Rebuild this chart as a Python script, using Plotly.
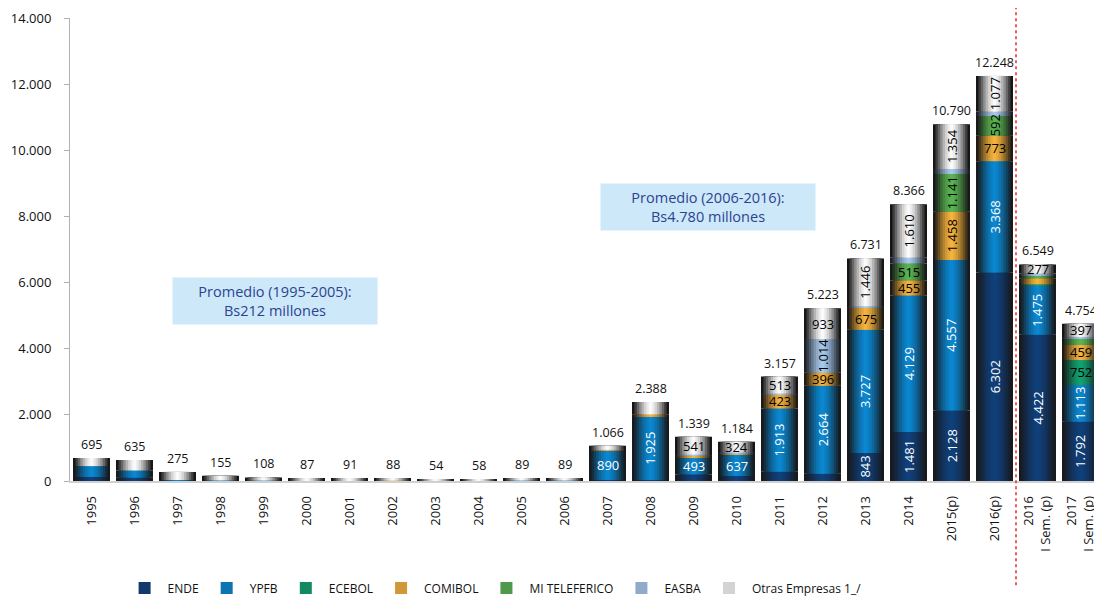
import plotly.graph_objects as go

categories = ["1995", "1996", "1997", "1998", "1999", "2000", "2001", "2002", "2003", "2004",
              "2005", "2006", "2007", "2008", "2009", "2010", "2011", "2012", "2013", "2014",
              "2015(p)", "2016(p)", "2016<br>I Sem. (p)", "2017<br>I Sem. (p)"]

totals = [695, 635, 275, 155, 108, 87, 91, 88, 54, 58, 89, 89, 1066, 2388, 1339, 1184,
          3157, 5223, 6731, 8366, 10790, 12248, 6549, 4754]

ende = [120, 100, 0, 0, 0, 0, 0, 0, 0, 0, 0, 0, 30, 30, 200, 150, 280, 216, 843, 1481,
        2128, 6302, 4422, 1792]
ypfb = [330, 220, 30, 15, 10, 0, 0, 0, 0, 0, 10, 10, 890, 1925, 493, 637, 1913, 2664, 3727,
        4129, 4557, 3368, 1475, 1113]
ecebol = [0, 0, 0, 0, 0, 0, 0, 0, 0, 0, 0, 0, 0, 0, 0, 0, 0, 0, 0, 0, 0, 0, 50, 752]
comibol = [0, 0, 0, 0, 0, 0, 0, 10, 0, 0, 0, 0, 20, 60, 80, 50, 423, 396, 675, 455, 1458,
           773, 180, 459]
mi_teleferico = [0, 0, 0, 0, 0, 0, 0, 0, 0, 0, 0, 0, 0, 0, 0, 0, 0, 0, 0, 515, 1141, 592, 90, 200]
easba = [0, 0, 0, 0, 0, 0, 0, 0, 0, 0, 0, 0, 0, 0, 25, 23, 28, 1014, 40, 176, 152, 136, 55, 41]
otras = [245, 315, 245, 140, 98, 87, 91, 78, 54, 58, 79, 79, 126, 373, 541, 324, 513, 933,
         1446, 1610, 1354, 1077, 277, 397]

series_names = ["ENDE", "YPFB", "ECEBOL", "COMIBOL", "MI TELEFERICO", "EASBA", "Otras Empresas 1_/"]
series_values = [ende, ypfb, ecebol, comibol, mi_teleferico, easba, otras]

# segments carrying a value label: series -> category indices ; horizontal (non-rotated) ones listed separately
labeled = {
    "ENDE": [18, 19, 20, 21, 22, 23],
    "YPFB": [12, 13, 14, 15, 16, 17, 18, 19, 20, 21, 22, 23],
    "ECEBOL": [23],
    "COMIBOL": [16, 17, 18, 19, 20, 21, 23],
    "MI TELEFERICO": [19, 20, 21],
    "EASBA": [17],
    "Otras Empresas 1_/": [14, 15, 16, 17, 18, 19, 20, 21, 22, 23],
}
horizontal = {("YPFB", 12), ("YPFB", 14), ("YPFB", 15), ("ECEBOL", 23), ("COMIBOL", 16),
              ("COMIBOL", 17), ("COMIBOL", 18), ("COMIBOL", 19), ("COMIBOL", 21), ("COMIBOL", 23),
              ("MI TELEFERICO", 19), ("Otras Empresas 1_/", 14), ("Otras Empresas 1_/", 15),
              ("Otras Empresas 1_/", 16), ("Otras Empresas 1_/", 17), ("Otras Empresas 1_/", 22),
              ("Otras Empresas 1_/", 23)}

# (edge colour, centre colour, label colour)
styles = {
    "ENDE": ("#18191d", "#0f407a", "white"),
    "YPFB": ("#16191d", "#0b87d0", "white"),
    "ECEBOL": ("#151a18", "#12a070", "black"),
    "COMIBOL": ("#1e1a14", "#f4b23e", "black"),
    "MI TELEFERICO": ("#161a16", "#5ab452", "black"),
    "EASBA": ("#1c2026", "#a6c8ea", "black"),
    "Otras Empresas 1_/": ("#151515", "#fafafa", "black"),
}

FONT = "Open Sans"


def mix(c1, c2, t):
    a = [int(c1[i:i + 2], 16) for i in (1, 3, 5)]
    b = [int(c2[i:i + 2], 16) for i in (1, 3, 5)]
    return "#" + "".join(f"{round(a[k] + (b[k] - a[k]) * t):02x}" for k in range(3))


def fmt(v):
    return f"{v:,}".replace(",", ".")


BAR_W = 0.86
layer_fracs = [1.0, 0.87, 0.74, 0.61, 0.48, 0.35, 0.22, 0.10]
layer_t = [0.0, 0.18, 0.36, 0.54, 0.7, 0.83, 0.93, 1.0]
LEGEND_LAYER = 5

xs = list(range(len(categories)))

fig = go.Figure()

# cumulative bases
bases = []
run = [0] * len(categories)
for vals in series_values:
    bases.append(run[:])
    run = [run[i] + vals[i] for i in range(len(categories))]

for li, (fr, t) in enumerate(zip(layer_fracs, layer_t)):
    for name, vals, base in zip(series_names, series_values, bases):
        edge, centre, _ = styles[name]
        fig.add_trace(go.Bar(
            x=xs, y=vals, base=base, width=BAR_W * fr,
            marker=dict(color=mix(edge, centre, t), line=dict(width=0)),
            name=name, legendgroup=name, showlegend=(li == LEGEND_LAYER),
            hoverinfo="skip",
        ))

annotations = []
# segment labels
for name, vals, base in zip(series_names, series_values, bases):
    for i in labeled[name]:
        rot = (name, i) not in horizontal
        annotations.append(dict(
            x=i, y=base[i] + vals[i] / 2, xref="x", yref="y", text=fmt(vals[i]),
            showarrow=False, textangle=-90 if rot else 0,
            xanchor="center", yanchor="middle",
            font=dict(family=FONT, size=13, color=styles[name][2]),
        ))
# totals
for i, tot in enumerate(totals):
    annotations.append(dict(
        x=i, y=tot, xref="x", yref="y", text=fmt(tot), showarrow=False,
        xanchor="center", yanchor="bottom", yshift=3,
        font=dict(family=FONT, size=12.5, color="#111111"),
    ))
# average boxes
annotations.append(dict(
    x=0.199, y=0.389, xref="paper", yref="paper", xanchor="center", yanchor="middle",
    text="Promedio (1995-2005):<br>Bs212 millones", showarrow=False,
    bgcolor="#cde8f9", width=198, height=40, borderpad=3, align="center",
    font=dict(family=FONT, size=14.5, color="#2c4390"),
))
annotations.append(dict(
    x=0.618, y=0.592, xref="paper", yref="paper", xanchor="center", yanchor="middle",
    text="Promedio (2006-2016):<br>Bs4.780 millones", showarrow=False,
    bgcolor="#cde8f9", width=208, height=40, borderpad=3, align="center",
    font=dict(family=FONT, size=14.5, color="#2c4390"),
))

# the page body adds an 8px offset, so the figure is sized and margined to compensate
fig.update_layout(
    width=1094, height=590,
    margin=dict(l=62, r=0, t=10, b=117, autoexpand=False),
    paper_bgcolor="white", plot_bgcolor="white",
    barmode="overlay", separators=",.",
    font=dict(family=FONT, size=13, color="#111111"),
    annotations=annotations,
    showlegend=True,
    legend=dict(orientation="h", x=0.05, xanchor="left", y=-0.231, yanchor="middle",
                font=dict(family=FONT, size=12, color="#111111"),
                itemwidth=36, traceorder="normal"),
    shapes=[dict(type="line", xref="x", yref="paper", x0=21.5, x1=21.5, y0=-0.225, y1=1.028,
                 line=dict(color="#e03030", width=1.5, dash="dot"))],
)

fig.update_xaxes(
    type="linear", range=[-0.5, len(categories) - 0.5], automargin=False,
    tickmode="array", tickvals=xs, ticktext=categories, tickangle=-90,
    showgrid=False, zeroline=False, showline=True, linecolor="#d0d0d0", linewidth=1.5,
    ticks="", ticklabelstandoff=8,
    tickfont=dict(family=FONT, size=13, color="#111111"),
)
fig.update_yaxes(
    range=[0, 14000], tickmode="array", tickvals=list(range(0, 14001, 2000)), automargin=False,
    tickformat=",d", showgrid=False, zeroline=False,
    showline=True, linecolor="#b0b0b0", linewidth=1,
    ticks="outside", ticklen=5, tickcolor="#b0b0b0", ticklabelstandoff=10,
    tickfont=dict(family=FONT, size=13, color="#111111"),
)

fig.write_html("out.html")
